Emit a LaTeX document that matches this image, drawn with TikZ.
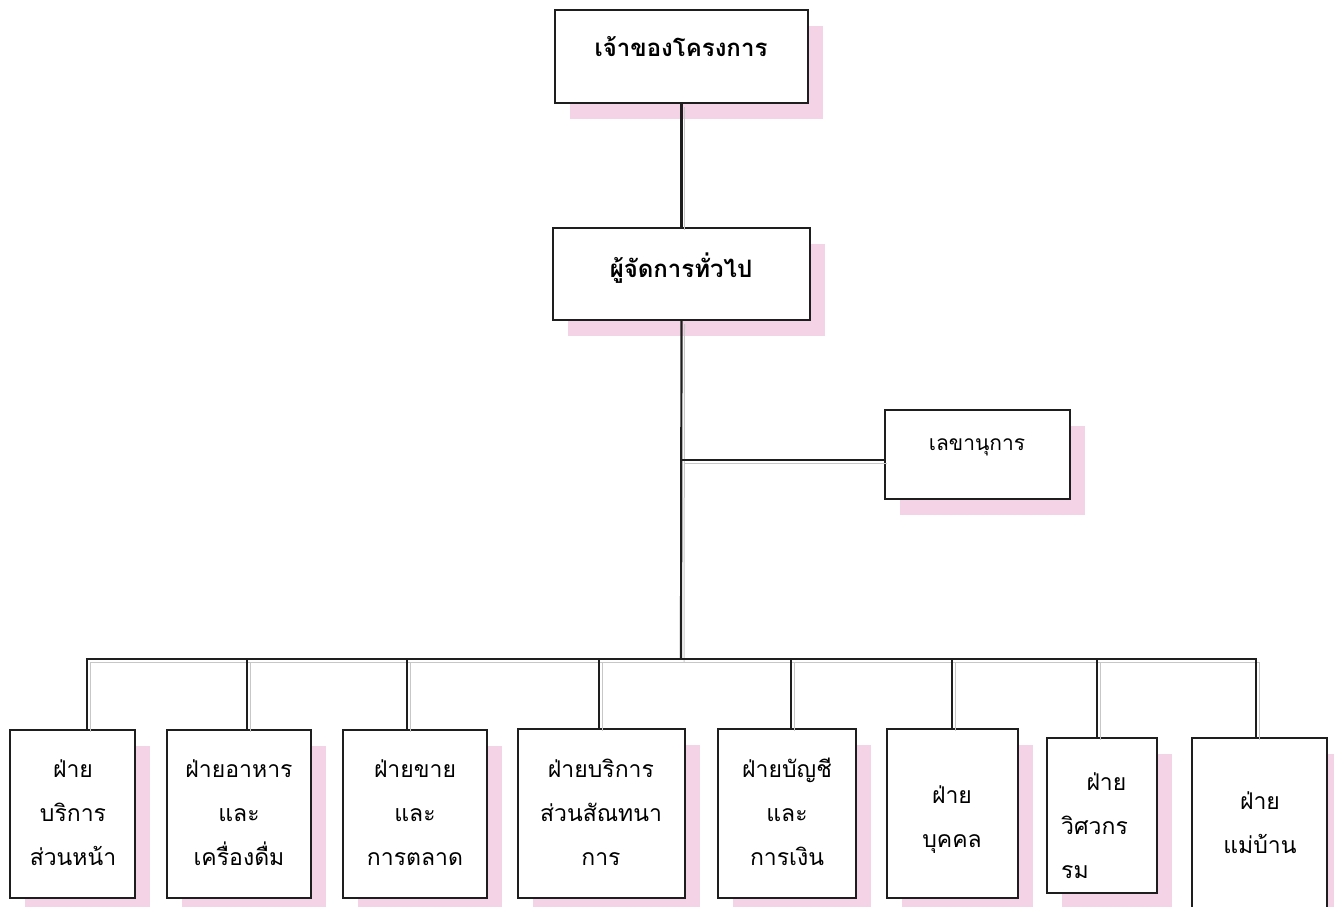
\documentclass[tikz,border=0pt]{standalone}
\usepackage{fontspec}
\newfontfamily\thaifont[Script=Thai]{Loma}
\usetikzlibrary{shadows}
\definecolor{shadowpink}{HTML}{F4D3E6}
\definecolor{ink}{HTML}{1E1E1E}
\begin{document}
\begin{tikzpicture}[x=1pt,y=-1pt,
  box/.style={draw=ink, line width=2pt, fill=white, rectangle, inner sep=0pt,
    drop shadow={shadow xshift=15pt, shadow yshift=-16pt, fill=shadowpink, draw=none, opacity=1}},
  headtext/.style={font=\thaifont\bfseries\fontsize{24}{28}\selectfont, inner sep=0pt},
  sectext/.style={font=\thaifont\fontsize{21}{26}\selectfont, inner sep=0pt},
  unittext/.style={font=\thaifont\fontsize{23}{44}\selectfont, align=center, inner sep=0pt},
  conn/.style={draw=ink, line width=2.2pt},
  connshade/.style={draw=black!22, line width=1pt}]
\useasboundingbox (0,0) rectangle (1334,906);

% top of the chart
\node[box, minimum width=253pt, minimum height=93pt] (owner) at (681.5,56.5) {};
\node[headtext] (ownerT) at (681,47) {เจ้าของโครงการ};
\node[box, minimum width=257pt, minimum height=92pt] (gm) at (681.5,274) {};
\node[headtext] (gmT) at (681,268) {ผู้จัดการทั่วไป};
\node[box, minimum width=185pt, minimum height=89pt] (sec) at (977.5,454.5) {};
\node[sectext] (secT) at (977,447) {เลขานุการ};

% departments
\node[box, minimum width=125pt, minimum height=168pt] (b1) at (72.5,814) {};
\node[box, minimum width=144pt, minimum height=168pt] (b2) at (239,814) {};
\node[box, minimum width=144pt, minimum height=168pt] (b3) at (415,814) {};
\node[box, minimum width=167pt, minimum height=169pt] (b4) at (601.5,813.5) {};
\node[box, minimum width=138pt, minimum height=169pt] (b5) at (787,813.5) {};
\node[box, minimum width=131pt, minimum height=169pt] (b6) at (952.5,813.5) {};
\node[box, minimum width=110pt, minimum height=155pt] (b7) at (1102,815.5) {};
\node[box, minimum width=135pt, minimum height=177pt] (b8) at (1259.5,826.5) {};

\node[unittext] (b1T) at (73,813) {ฝ่าย\\บริการ\\ส่วนหน้า};
\node[unittext] (b2T) at (239,813) {ฝ่ายอาหาร\\และ\\เครื่องดื่ม};
\node[unittext] (b3T) at (415,813) {ฝ่ายขาย\\และ\\การตลาด};
\node[unittext] (b4T) at (601,812) {ฝ่ายบริการ\\ส่วนสัณทนา\\การ};
\node[unittext] (b5T) at (787,812) {ฝ่ายบัญชี\\และ\\การเงิน};
\node[unittext] (b6T) at (952,820) {ฝ่าย\\บุคคล};
\node[unittext, align=left, anchor=west] (b7T) at (1061,826) {\hspace*{1.1em}ฝ่าย\\วิศวกร\\รม};
\node[unittext] (b8T) at (1260,823) {ฝ่าย\\แม่บ้าน};

% connectors
\coordinate (secJ) at (681,460);
\coordinate (busM) at (681,659);
\coordinate (busL) at (87,659);
\coordinate (busR) at (1256,659);
\coordinate (t1) at (87,659);
\coordinate (t2) at (247,659);
\coordinate (t3) at (407,659);
\coordinate (t4) at (599,659);
\coordinate (t5) at (791,659);
\coordinate (t6) at (952,659);
\coordinate (t7) at (1097,659);
\coordinate (t8) at (1256,659);

% faint offset strokes beside each connector
\begin{scope}[transform canvas={shift={(3pt,-3pt)}}]
  \draw[connshade] (owner.south) -- (gm.north);
  \draw[connshade] (gm.south) -- (busM);
  \draw[connshade] (secJ) -- (secJ -| sec.west);
  \draw[connshade] (busL) -- (busR);
  \foreach \i in {1,...,8}{
    \draw[connshade] (t\i) -- (t\i |- b\i.north);
  }
\end{scope}

\draw[conn] (owner.south) -- (gm.north);
\draw[conn] (gm.south) -- (busM);
\draw[conn] (secJ) -- (secJ -| sec.west);
\draw[conn] ([xshift=-1.1pt]busL) -- ([xshift=1.1pt]busR);
\foreach \i in {1,...,8}{
  \draw[conn] (t\i) -- (t\i |- b\i.north);
}
\end{tikzpicture}
\end{document}
